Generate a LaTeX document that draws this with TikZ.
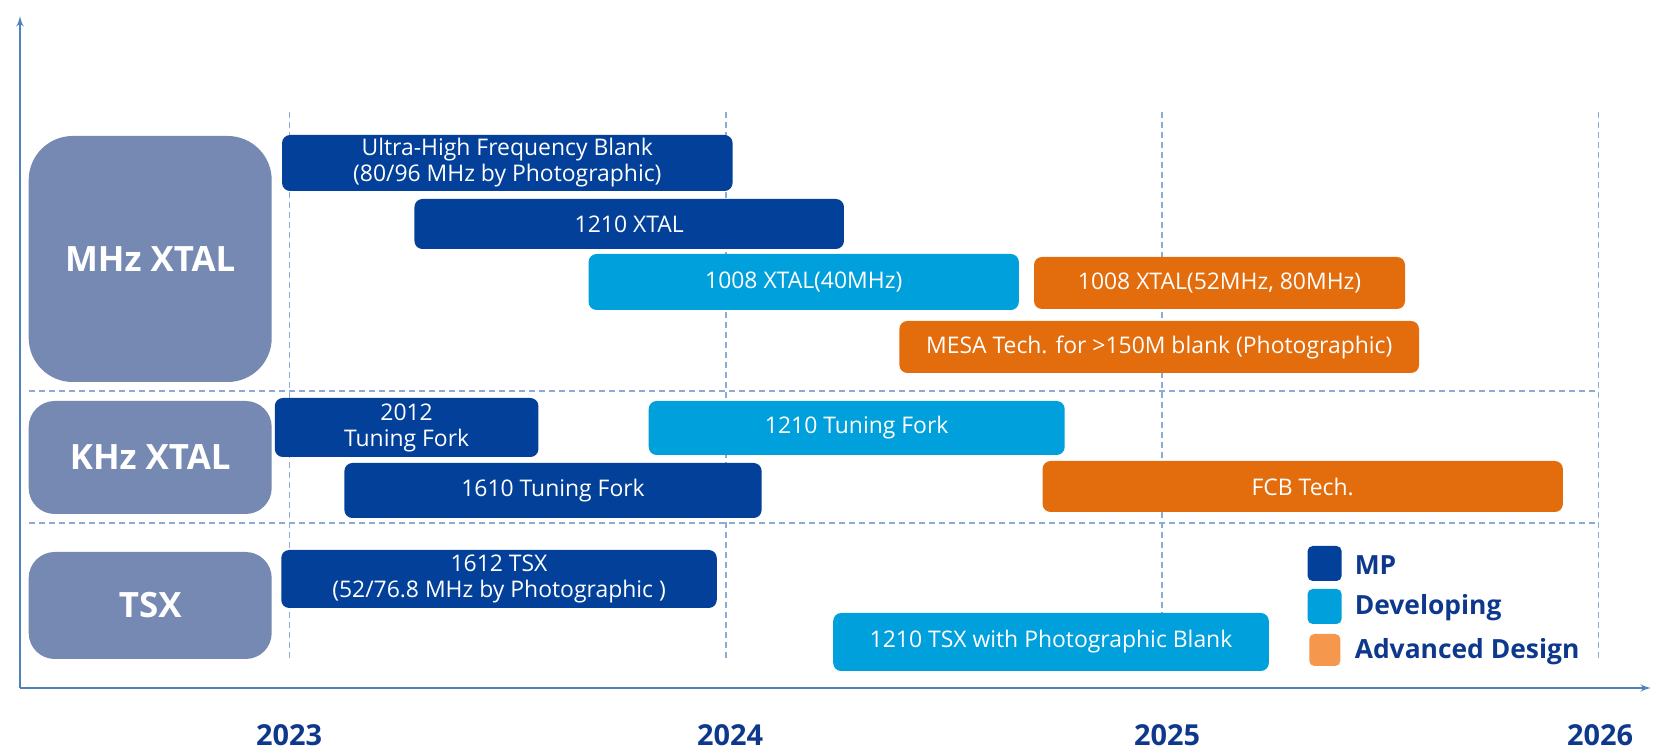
\documentclass[tikz,border=0pt]{standalone}
\usepackage{fontspec}
\setmainfont{Open Sans}
\usepackage{tikz}
\usetikzlibrary{arrows,shapes}
\definecolor{mpblue}{RGB}{2,64,153}
\definecolor{devblue}{RGB}{0,160,220}
\definecolor{advorange}{RGB}{227,108,12}
\definecolor{advlight}{RGB}{245,152,78}
\definecolor{catgrey}{RGB}{118,137,178}
\definecolor{axisblue}{RGB}{79,129,189}
\definecolor{gridblue}{RGB}{140,172,214}
\definecolor{yearblue}{RGB}{14,56,140}

\begin{document}
\begin{tikzpicture}[>=latex',line join=bevel,
  bar/.style={rounded corners=8bp,inner sep=0pt,text=white,align=center,font=\fontsize{23}{26}\selectfont},
  mp/.style={bar,fill=mpblue},
  dev/.style={bar,fill=devblue},
  adv/.style={bar,fill=advorange},
  cat/.style={fill=catgrey,inner sep=0pt,minimum width=243bp,text=white,font=\bfseries\fontsize{35}{40}\selectfont},
  gridline/.style={gridblue,line width=1.3bp,dash pattern=on 6bp off 4bp},
  axisline/.style={axisblue,line width=2.6bp},
  year/.style={text=yearblue,font=\bfseries\fontsize{29}{32}\selectfont},
  legendbox/.style={rounded corners=5bp,inner sep=0pt,minimum width=34bp,minimum height=35bp},
  legendtext/.style={anchor=west,inner sep=0pt,text=yearblue,font=\bfseries\fontsize{26.5}{30}\selectfont},
]
\useasboundingbox (0bp,0bp) rectangle (1656bp,753bp);
%%
\coordinate (origin) at (20bp,65bp);
\coordinate (ytop) at (20bp,737bp);
\coordinate (xend) at (1651bp,65bp);
% grid
\foreach \gx in {289.7,726,1162,1598.6}
  \draw [gridline] (\gx bp,641bp) -- (\gx bp,93bp);
\foreach \gy in {362,230}
  \draw [gridline] (29bp,\gy bp) -- (1598.6bp,\gy bp);
\draw [axisline,->] (origin) -- (ytop);
\draw [axisline,->] (origin) -- (xend);
%
\node (mhz) at (150.2bp,494bp) [cat,minimum height=246bp,rounded corners=44bp] {MHz XTAL};
  \node (khz) at (150.2bp,295.5bp) [cat,minimum height=113bp,rounded corners=26bp] {KHz XTAL};
  \node (tsx) at (150.2bp,147.5bp) [cat,minimum height=107bp,rounded corners=26bp] {TSX};
%
\node (uhf) at (507.3bp,590bp) [mp,minimum width=450.5bp,minimum height=56bp] {Ultra-High Frequency Blank\\(80/96 MHz by Photographic)};
  \node (xtalA) at (629.2bp,529bp) [mp,minimum width=429.5bp,minimum height=50bp] {1210 XTAL};
  \node (xtalB) at (803.7bp,471bp) [dev,minimum width=430.2bp,minimum height=56bp] {1008 XTAL(40MHz)};
  \node (xtalC) at (1219.5bp,470bp) [adv,minimum width=371bp,minimum height=52bp] {1008 XTAL(52MHz, 80MHz)};
  \node (mesa) at (1159.2bp,406bp) [adv,minimum width=519.6bp,minimum height=52bp] {MESA Tech. for >150M blank (Photographic)};
%
\node (forkA) at (406.6bp,325.5bp) [mp,minimum width=263.6bp,minimum height=59bp] {2012\\Tuning Fork};
  \node (forkB) at (856.7bp,325bp) [dev,minimum width=416bp,minimum height=54bp] {1210 Tuning Fork};
  \node (forkC) at (553bp,262.5bp) [mp,minimum width=417.2bp,minimum height=55bp] {1610 Tuning Fork};
  \node (fcb) at (1302.7bp,266.5bp) [adv,minimum width=520.3bp,minimum height=51bp] {FCB Tech.};
%
\node (tsxA) at (499bp,174bp) [mp,minimum width=435.5bp,minimum height=58bp] {1612 TSX\\(52/76.8 MHz by Photographic )};
  \node (tsxB) at (1051bp,111bp) [dev,minimum width=435.6bp,minimum height=58bp] {1210 TSX with Photographic Blank};
%
\node (keyMP) at (1324.6bp,189.5bp) [legendbox,fill=mpblue] {};
  \node (keyDev) at (1324.6bp,146.5bp) [legendbox,fill=devblue] {};
  \node (keyAdv) at (1324.8bp,103bp) [legendbox,fill=advlight,minimum width=31bp,minimum height=32bp] {};
  \node (txtMP) at (1354.6bp,188bp) [legendtext] {MP};
  \node (txtDev) at (1354.6bp,145bp) [legendtext] {Developing};
  \node (txtAdv) at (1354.6bp,101bp) [legendtext] {Advanced Design};
%
\node (y23) at (289bp,18bp) [year] {2023};
  \node (y24) at (730bp,18bp) [year] {2024};
  \node (y25) at (1167bp,18bp) [year] {2025};
  \node (y26) at (1600bp,18bp) [year] {2026};
%
\end{tikzpicture}
\end{document}
